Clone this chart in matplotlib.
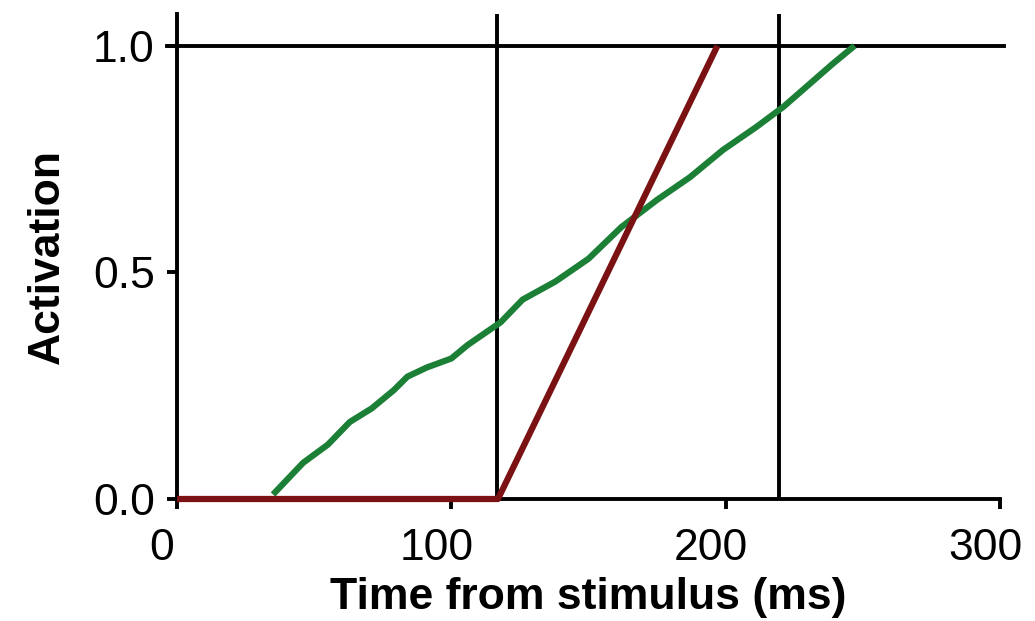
import numpy as np
import matplotlib
matplotlib.use("Agg")
import matplotlib.pyplot as plt
import matplotlib.transforms as mtransforms

# activation traces (time in ms, activation 0..1)
red_t = [0, 117, 197]
red_a = [0.0, 0.0, 1.0]

green_t = [35, 46, 55, 63, 71, 79, 84, 91, 100, 106, 118, 126, 138, 150,
           162, 175, 187, 199, 211, 221, 239, 247]
green_a = [0.01, 0.08, 0.12, 0.17, 0.20, 0.24, 0.27, 0.29, 0.31, 0.34, 0.39,
           0.44, 0.48, 0.53, 0.60, 0.66, 0.71, 0.77, 0.82, 0.865, 0.96, 1.0]

vlines = [116.5, 219.5]
threshold = 1.0

x_ticks = [0, 100, 200, 300]
y_ticks = [0.0, 0.5, 1.0]

plt.rcParams["font.family"] = ["Liberation Sans", "DejaVu Sans"]

fig = plt.figure(figsize=(10.35, 6.21), dpi=100)
ax = fig.add_axes([177 / 1035, 1 - 499 / 621, 823 / 1035, 485 / 621])

# threshold and marker lines
ax.plot([-3.5, 301.5], [threshold, threshold], color="black", lw=2.8,
        clip_on=False, zorder=2)
for v in vlines:
    ax.axvline(v, color="black", lw=2.8, zorder=2)

# traces
ax.plot(green_t, green_a, color="#1b7f36", lw=4.5, clip_on=False,
        solid_capstyle="butt", solid_joinstyle="round", zorder=3)
ax.plot(red_t, red_a, color="#7a1112", lw=4.5, clip_on=False,
        solid_capstyle="butt", zorder=4)

ax.set_xlim(0, 300)
ax.set_ylim(0, 1.07)
ax.set_xticks(x_ticks)
ax.set_yticks(y_ticks)
ax.set_yticklabels(["%.1f" % y for y in y_ticks])

for side in ["top", "right"]:
    ax.spines[side].set_visible(False)
for side in ["left", "bottom"]:
    ax.spines[side].set_linewidth(2.8)

ax.tick_params(direction="out", length=7, width=2.8, labelsize=32)
ax.tick_params(axis="x", pad=14)
ax.tick_params(axis="y", pad=9)

# the original's x tick labels sit a little left of their ticks
shift = mtransforms.ScaledTranslation(-15 / 100, 0, fig.dpi_scale_trans)
for lab in ax.get_xticklabels():
    lab.set_transform(lab.get_transform() + shift)

ax.set_xlabel("Time from stimulus (ms)", fontsize=32, fontweight="bold",
              labelpad=6)
ax.set_ylabel("Activation", fontsize=32, fontweight="bold", labelpad=18)

fig.savefig("out.png", dpi=100)
